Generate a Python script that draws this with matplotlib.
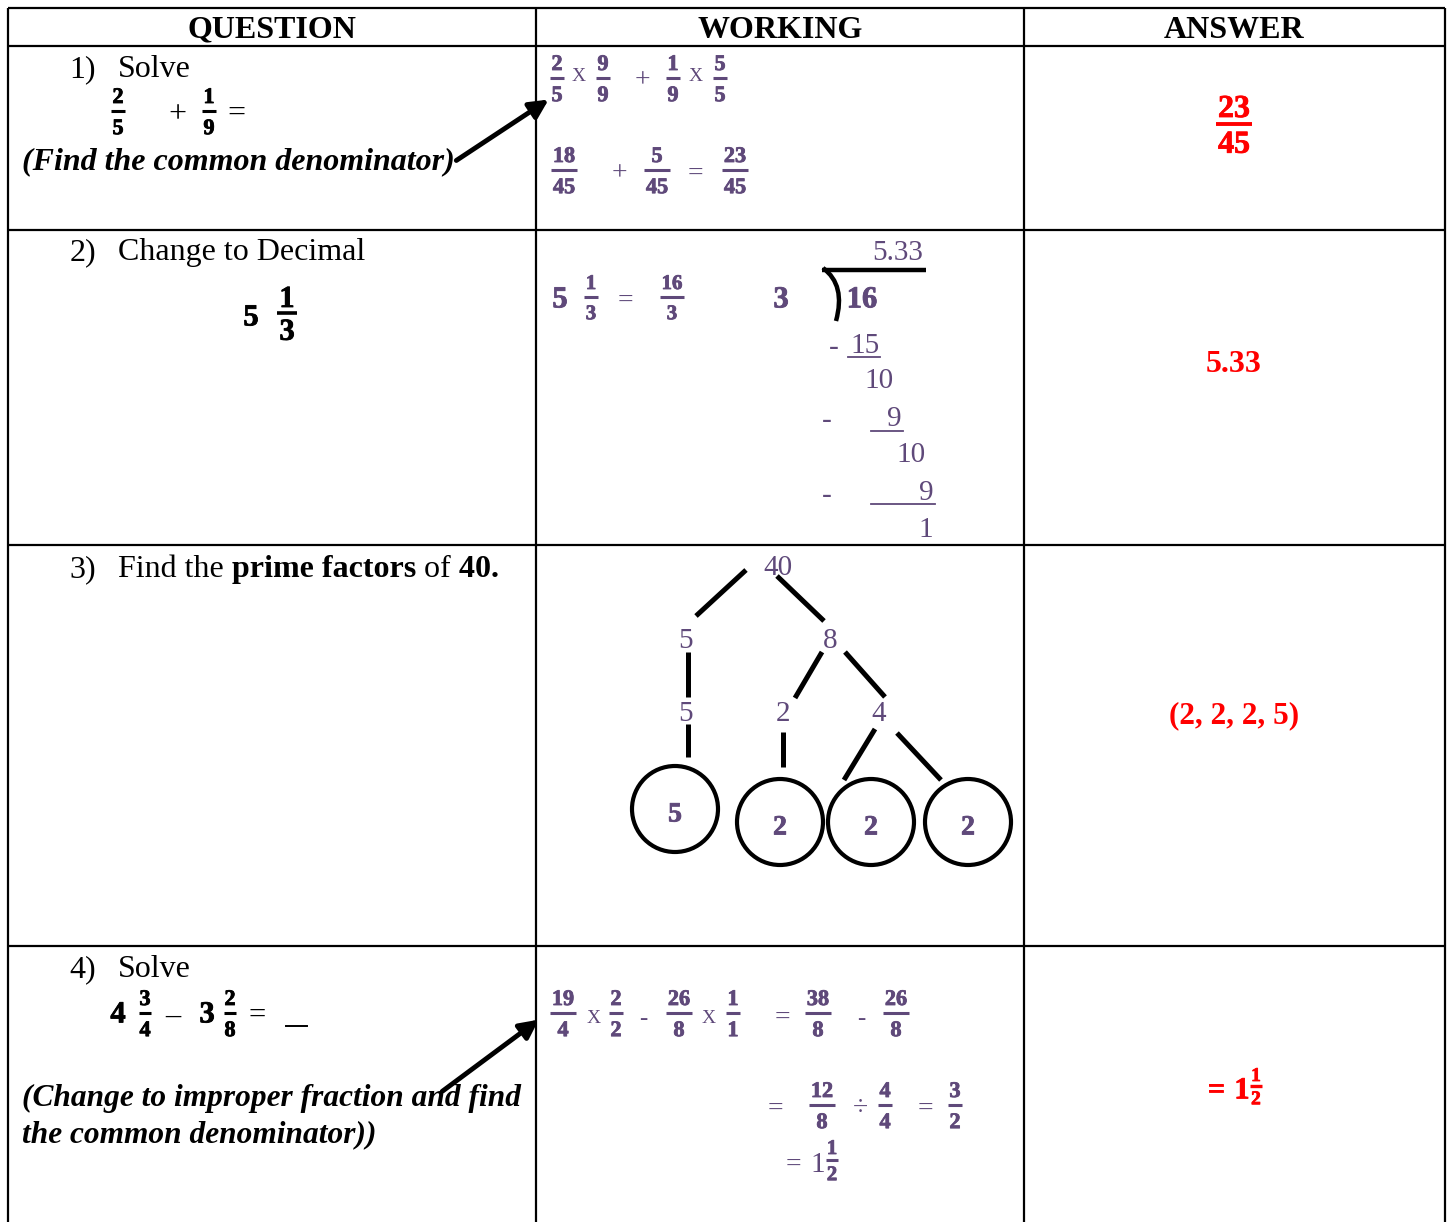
import matplotlib
matplotlib.use("Agg")
import matplotlib.pyplot as plt
import matplotlib.patheffects as pe
from matplotlib.path import Path
from matplotlib.patches import PathPatch, Circle

# ---- table content ----
headers = ["QUESTION", "WORKING", "ANSWER"]
q_numbers = ["1)", "2)", "3)", "4)"]
q_titles = ["Solve", "Change to Decimal", None, "Solve"]
q3_parts = [("Find the", "normal"), (" prime factors", "bold"), (" of", "normal"), (" 40.", "bold")]
q1_fracs = [("2", "5"), ("1", "9")]
q1_hint = "(Find the common denominator)"
q2_whole, q2_frac = "5", ("1", "3")
q4_mixed = [("4", "3", "4"), ("3", "2", "8")]
q4_hint = ["(Change to improper fraction and find", "the common denominator))"]

w1_line1 = [("2", "5"), ("9", "9"), ("1", "9"), ("5", "5")]
w1_line2 = [("18", "45"), ("5", "45"), ("23", "45")]
w2_mixed = ("5", "1", "3")
w2_improper = ("16", "3")
w2_divisor, w2_dividend, w2_quotient = "3", "16", "5.33"
w2_steps = ["15", "10", "9", "10", "9", "1"]
tree_nodes = ["40", "5", "8", "5", "2", "4"]
tree_primes = ["5", "2", "2", "2"]
w4_line1 = [("19", "4"), ("2", "2"), ("26", "8"), ("1", "1"), ("38", "8"), ("26", "8")]
w4_line2 = [("12", "8"), ("4", "4"), ("3", "2")]
w4_line3 = ("1", "1", "2")

ans1 = ("23", "45")
ans2 = "5.33"
ans3 = "(2, 2, 2, 5)"
ans4 = ("1", "1", "2")

PURPLE = "#5f497a"
RED = "#ff0000"
SERIF = "Liberation Serif"
W, H = 1447, 1222
PX = 100 / 72.0

fig = plt.figure(figsize=(W / 100, H / 100), dpi=100)
ax = fig.add_axes([0, 0, 1, 1])
ax.set_xlim(0, W)
ax.set_ylim(H, 0)
ax.axis("off")


def txt(x, yc, s, size, color="black", weight="normal", style="normal", ha="center", heavy=False):
    # yc = visual middle of digits / capitals
    base = yc + 0.34 * size * PX
    t = ax.text(x, base, s, fontsize=size, color=color, fontweight=weight,
                fontstyle=style, family=SERIF, ha=ha, va="baseline")
    if heavy:
        t.set_path_effects([pe.withStroke(linewidth=0.6, foreground=color)])
    return t


def frac(x, ybar, num, den, size, color="black", weight="bold", gap=7, lw=2.2, pad=3, heavy=True):
    h = 0.68 * size * PX
    txt(x, ybar - gap - h / 2, num, size, color, weight, heavy=heavy)
    txt(x, ybar + gap + h / 2, den, size, color, weight, heavy=heavy)
    bw = 0.5 * size * PX * max(len(num), len(den)) + pad
    ax.plot([x - bw / 2, x + bw / 2], [ybar, ybar], color=color, lw=lw, solid_capstyle="butt")


def line(x0, y0, x1, y1, lw=1.6, color="black"):
    ax.plot([x0, x1], [y0, y1], color=color, lw=lw, solid_capstyle="butt")


# ---- grid ----
cols = [8, 536, 1024, 1445]
rows = [8, 46, 230, 545, 946]
for c in cols:
    line(c, 8, c, H)
for r in rows:
    line(8, r, 1445, r)

for i, hd in enumerate(headers):
    txt((cols[i] + cols[i + 1]) / 2, 27, hd, 23, weight="bold")

# ---- question column ----
title_y = [66, 249, 566, 966]
for i, n in enumerate(q_numbers):
    txt(96, title_y[i], n, 23, ha="right")
    if q_titles[i]:
        txt(118, title_y[i], q_titles[i], 23, ha="left")

renderer = fig.canvas.get_renderer()
x = 118
for s, w in q3_parts:
    t = txt(x, title_y[2], s, 23, weight=w, ha="left")
    x += t.get_window_extent(renderer=renderer).width

# Q1
frac(118, 111, q1_fracs[0][0], q1_fracs[0][1], 16, gap=8, pad=2)
txt(177, 111, "+", 23)
frac(209, 111, q1_fracs[1][0], q1_fracs[1][1], 16, gap=8, pad=2)
txt(236, 111, "=", 23)
txt(22, 158, q1_hint, 23, weight="bold", style="italic", ha="left")
ax.annotate("", xy=(551, 98), xytext=(454, 162),
            arrowprops=dict(arrowstyle="-|>", lw=3.5, color="black", mutation_scale=28))

# Q2
txt(251, 315, q2_whole, 22, weight="bold", heavy=True)
frac(287, 313, q2_frac[0], q2_frac[1], 22, gap=6, lw=2.6, pad=4)

# Q4
qx = [(118, 145), (207, 230)]
for (wx, fx), (whole, n, d) in zip(qx, q4_mixed):
    txt(wx, 1012, whole, 22, weight="bold", heavy=True)
    frac(fx, 1013, n, d, 16, gap=8, pad=1)
txt(173, 1013, "\u2013", 22)
txt(257, 1013, "=", 22)
ax.plot([286, 307], [1026, 1026], color="black", lw=1.4)
txt(22, 1095, q4_hint[0], 22.6, weight="bold", style="italic", ha="left")
txt(22, 1132, q4_hint[1], 22.6, weight="bold", style="italic", ha="left")
ax.annotate("", xy=(541, 1018), xytext=(440, 1093),
            arrowprops=dict(arrowstyle="-|>", lw=3.5, color="black", mutation_scale=28))

# ---- working column ----
# W1
xs1 = [557, 603, 673, 720]
for xx, (n, d) in zip(xs1, w1_line1):
    frac(xx, 78, n, d, 16, PURPLE, gap=8, pad=2)
txt(579, 74, "X", 14, PURPLE)
txt(696, 74, "X", 14, PURPLE)
txt(642, 78, "+", 20, PURPLE)
xs2 = [564, 657, 735]
for xx, (n, d) in zip(xs2, w1_line2):
    frac(xx, 170, n, d, 16, PURPLE, gap=8, pad=4)
txt(619, 171, "+", 20, PURPLE)
txt(695, 171, "=", 20, PURPLE)

# W2
txt(560, 297, w2_mixed[0], 22, PURPLE, "bold", heavy=True)
frac(591, 297, w2_mixed[1], w2_mixed[2], 15, PURPLE, gap=8, pad=4)
txt(625, 298, "=", 20, PURPLE)
frac(672, 297, w2_improper[0], w2_improper[1], 15, PURPLE, gap=8, pad=4)
txt(781, 297, w2_divisor, 22, PURPLE, "bold", heavy=True)
txt(862, 297, w2_dividend, 22, PURPLE, "bold", heavy=True)
txt(898, 250, w2_quotient, 21, PURPLE)
ax.plot([822, 926], [270, 270], color="black", lw=3.2, solid_capstyle="butt")
bracket = Path([(823, 268), (846, 285), (836, 321)], [Path.MOVETO, Path.CURVE3, Path.CURVE3])
ax.add_patch(PathPatch(bracket, fill=False, lw=3.2, edgecolor="black"))

step_pos = [(865, 343), (879, 378), (894, 416), (911, 452), (926, 490), (926, 527)]
for (sx, sy), s in zip(step_pos, w2_steps):
    txt(sx, sy, s, 21, PURPLE)
for mx, my in [(834, 345), (827, 418), (827, 493)]:
    txt(mx, my, "-", 21, PURPLE)
for x0, x1, yy in [(848, 880, 357), (871, 903, 431), (871, 935, 504)]:
    ax.plot([x0, x1], [yy, yy], color=PURPLE, lw=1.3)

# W3 tree
node_pos = [(778, 565), (685, 638), (830, 638), (685, 711), (783, 711), (879, 711)]
for (nx, ny), s in zip(node_pos, tree_nodes):
    txt(nx, ny, s, 21, PURPLE)
branches = [(746, 570, 696, 616), (777, 576, 824, 621), (688, 652, 688, 697),
            (688, 724, 688, 757), (822, 652, 795, 698), (845, 652, 885, 697),
            (783, 732, 783, 767), (875, 729, 844, 780), (897, 733, 941, 780)]
for b in branches:
    line(*b, lw=3.6)
circ_pos = [(675, 809), (780, 822), (871, 822), (968, 822)]
for (cx, cy), s in zip(circ_pos, tree_primes):
    ax.add_patch(Circle((cx, cy), 43, fill=False, lw=3, edgecolor="black"))
    txt(cx, cy + 3, s, 20, PURPLE, "bold", heavy=True)

# W4
xs4 = [563, 616, 679, 733, 818, 896]
for xx, (n, d) in zip(xs4, w4_line1):
    frac(xx, 1013, n, d, 16, PURPLE, gap=8, pad=3)
txt(594, 1016, "X", 14, PURPLE)
txt(709, 1016, "X", 14, PURPLE)
txt(643, 1017, "-", 18, PURPLE)
txt(861, 1017, "-", 18, PURPLE)
txt(782, 1015, "=", 20, PURPLE)

xs42 = [822, 885, 955]
for xx, (n, d) in zip(xs42, w4_line2):
    frac(xx, 1105, n, d, 16, PURPLE, gap=8, pad=3)
txt(775, 1106, "=", 20, PURPLE)
txt(860, 1106, "\u00f7", 20, PURPLE)
txt(925, 1106, "=", 20, PURPLE)

txt(793, 1162, "=", 20, PURPLE)
txt(818, 1162, w4_line3[0], 21, PURPLE)
frac(832, 1160, w4_line3[1], w4_line3[2], 15, PURPLE, gap=6, pad=1)

# ---- answer column ----
frac(1234, 124, ans1[0], ans1[1], 23, RED, gap=7, lw=2.8, pad=5)
txt(1234, 361, ans2, 23, RED, "bold")
txt(1234, 713, ans3, 22.5, RED, "bold")
txt(1216, 1088, "=", 22, RED, "bold", heavy=True)
txt(1242, 1088, ans4[0], 22, RED, "bold", heavy=True)
frac(1256, 1086, ans4[1], ans4[2], 14, RED, gap=5, lw=2.4, pad=2)

fig.savefig("out.png", dpi=100)
